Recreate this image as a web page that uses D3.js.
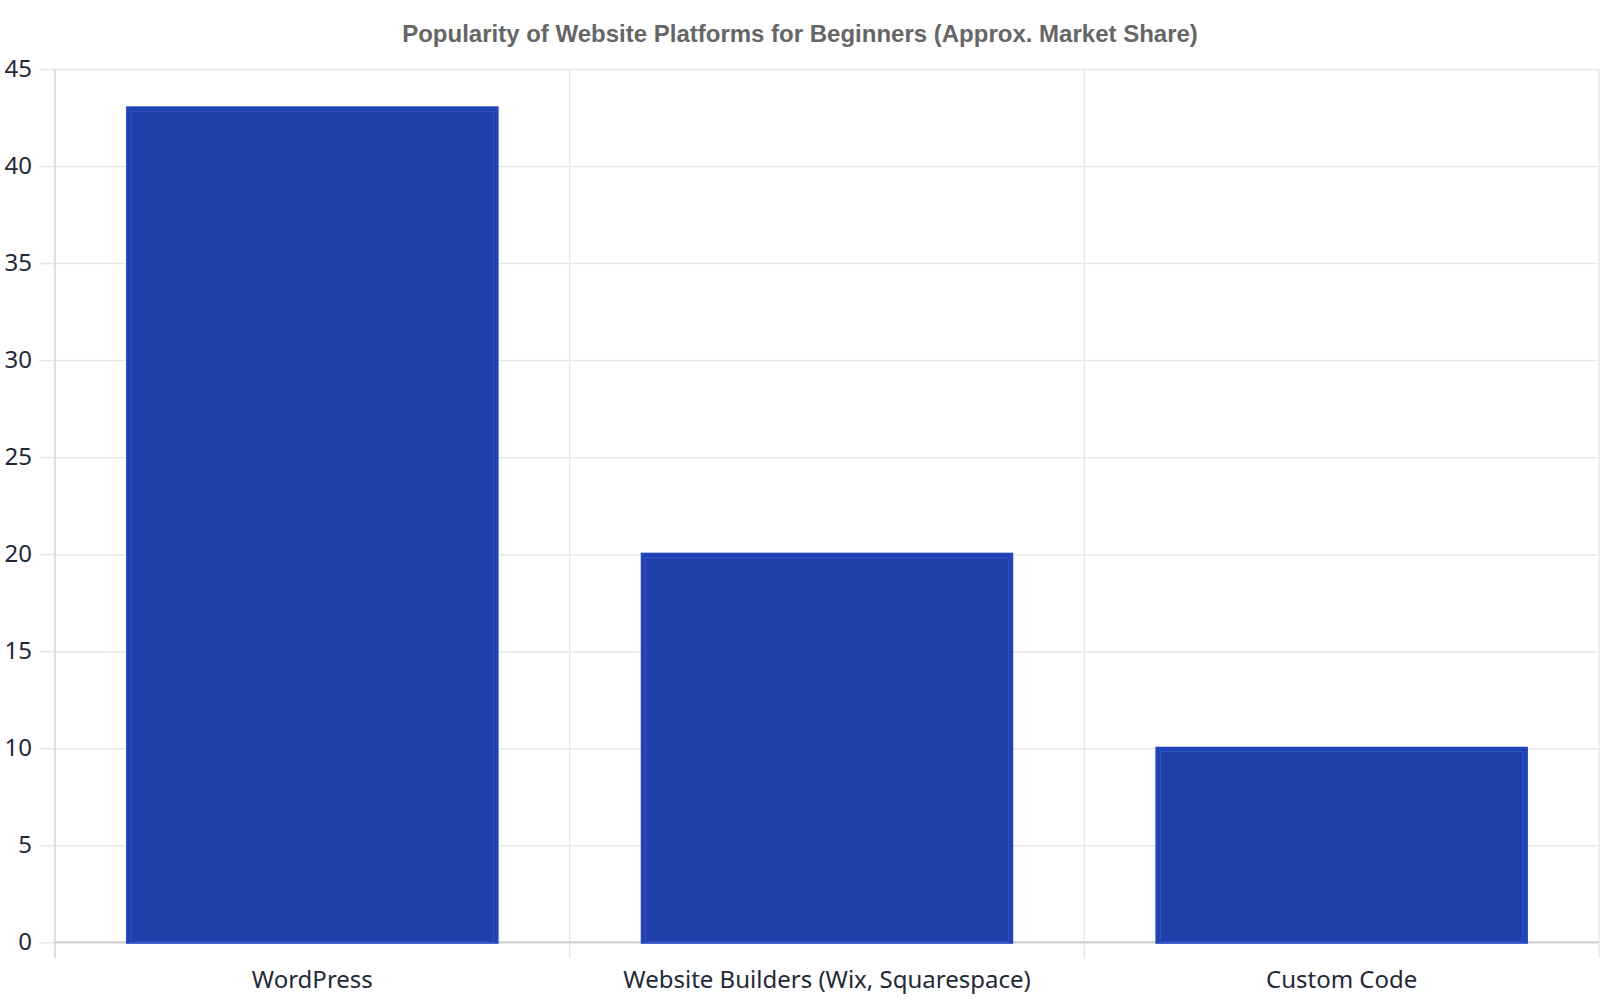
<!DOCTYPE html>
<html><head><meta charset="utf-8">
<script src="https://cdn.jsdelivr.net/npm/d3@7"></script>
<style>body{margin:0;background:#fff;} svg{display:block;}</style>
</head><body>
<svg id="c" width="1600" height="1000"></svg>
<script>
const categories = ["WordPress", "Website Builders (Wix, Squarespace)", "Custom Code"];
const values = [43, 20, 10];
const yTicks = [0, 5, 10, 15, 20, 25, 30, 35, 40, 45];
const title = "Popularity of Website Platforms for Beginners (Approx. Market Share)";

const svg = d3.select("#c");
const m = {left: 55, right: 1599, top: 69, bottom: 942.3};
const x = d3.scaleBand().domain(categories).range([m.left, m.right]).paddingInner(0.282).paddingOuter(0.141);
const xb = d3.scaleBand().domain(categories).range([m.left, m.right]).padding(0);
const y = d3.scaleLinear().domain([0, 45]).range([m.bottom, m.top]);

svg.append("text").attr("x", 800).attr("y", 42).attr("text-anchor", "middle")
  .attr("font-family", "Liberation Sans, Arial, sans-serif").attr("font-weight", "bold")
  .attr("font-size", 24).attr("fill", "#666").text(title);

// horizontal grid + left ticks
const yAxis = d3.axisLeft(y).tickValues(yTicks).tickSize(16).tickPadding(7);
const gy = svg.append("g").attr("transform", `translate(${m.left},0)`).call(yAxis);
gy.select(".domain").remove();
gy.selectAll(".tick line").attr("stroke", "#e6e6e6").attr("stroke-width", 1.5);
gy.selectAll(".tick text").attr("font-family", "Noto Sans, Open Sans, sans-serif").attr("font-size", 24).attr("fill", "#1f2937");
const gridY = d3.axisLeft(y).tickValues(yTicks).tickSize(-(m.right - m.left)).tickFormat("");
const gg = svg.append("g").attr("transform", `translate(${m.left},0)`).call(gridY);
gg.select(".domain").remove();
gg.selectAll(".tick line").attr("stroke", "#e8e8e8").attr("stroke-width", 1.5);

// vertical grid at category boundaries
const bounds = categories.map(c => xb(c)).concat([m.right]);
svg.append("g").selectAll("line").data(bounds).join("line")
  .attr("x1", d => d).attr("x2", d => d).attr("y1", m.top).attr("y2", m.bottom + 16)
  .attr("stroke", (d, i) => i === 0 ? "#d4d4d4" : "#e8e8e8").attr("stroke-width", 1.5);

// baseline
svg.append("line").attr("x1", m.left).attr("x2", m.right).attr("y1", m.bottom).attr("y2", m.bottom)
  .attr("stroke", "#cfcfcf").attr("stroke-width", 2);

// bars
const bars = svg.append("g").selectAll("g").data(categories).join("g");
bars.append("rect")
  .attr("x", d => x(d)).attr("y", (d, i) => y(values[i]))
  .attr("width", x.bandwidth()).attr("height", (d, i) => y(0) - y(values[i]))
  .attr("fill", "#1e40ab").attr("stroke", "#2244bd").attr("stroke-width", 3);
bars.append("rect")
  .attr("x", d => x(d) + 3.5).attr("y", (d, i) => y(values[i]) + 3.5)
  .attr("width", x.bandwidth() - 7).attr("height", (d, i) => y(0) - y(values[i]) - 3.5)
  .attr("fill", "none").attr("stroke", "#4a68d4").attr("stroke-opacity", 0.55).attr("stroke-width", 1);

// x labels
const xAxis = d3.axisBottom(x).tickSize(0).tickPadding(29);
const gx = svg.append("g").attr("transform", `translate(0,${m.bottom})`).call(xAxis);
gx.select(".domain").remove();
gx.selectAll(".tick text").attr("font-family", "Noto Sans, Open Sans, sans-serif").attr("font-size", 24).attr("fill", "#1f2937");
</script>
</body></html>
